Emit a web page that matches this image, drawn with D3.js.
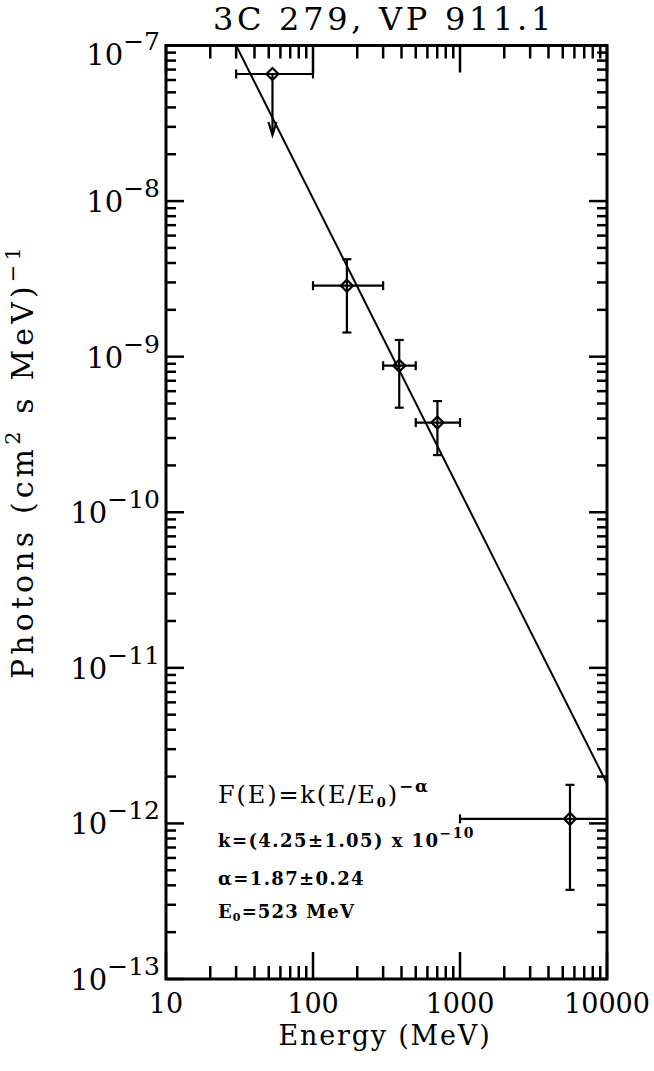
<!DOCTYPE html>
<html>
<head>
<meta charset="utf-8">
<script src="https://cdn.jsdelivr.net/npm/d3@7"></script>
<style>
  body { margin: 0; background: #fff; }
  svg { display: block; }
  text { font-family: "DejaVu Serif", serif; fill: #000; }
</style>
</head>
<body>
<svg width="654" height="1071"></svg>
<script>
// data
const energy = [53, 170, 386, 702, 5600];          // MeV, bin centre
const energyLo = [30, 100, 300, 500, 1000];
const energyHi = [100, 300, 500, 1000, 10000];
const flux = [6.56e-8, 2.86e-9, 8.75e-10, 3.77e-10, 1.07e-12];
const fluxLo = [null, 1.43e-9, 4.7e-10, 2.33e-10, 3.74e-13];
const fluxHi = [null, 4.23e-9, 1.28e-9, 5.18e-10, 1.77e-12];
const upperLimit = [true, false, false, false, false];
const limitArrowTo = [2.66e-8, null, null, null, null];

// fitted power law, end points as drawn
const fitEnergy = [30, 10000];
const fitFlux = [1e-7, 1.8e-12];

const xTickLabels = ["10", "100", "1000", "10000"];
const yTickExponents = ["−7", "−8", "−9", "−10", "−11", "−12", "−13"];

const svg = d3.select("svg");
const pLeft = 166, pRight = 607, pTop = 45.5, pBottom = 979;

const x = d3.scaleLog().domain([10, 10000]).range([pLeft, pRight]);
const y = d3.scaleLog().domain([1e-13, 1e-7]).range([pBottom, pTop]);

const isMajor = (v) => Math.abs(Math.log10(v) - Math.round(Math.log10(v))) < 1e-6;

// stretch a text to the width it has in the plot (old plotting fonts run wide)
const fitWidth = (sel, w) => {
  const n = sel.node();
  const len = n.getComputedTextLength();
  const chars = n.textContent.length;
  sel.attr("letter-spacing", (w - len) / chars);
  return sel;
};

// ticks on all four sides
const g = svg.append("g").attr("stroke", "#000").attr("stroke-width", 2.5);
x.ticks().forEach((t) => {
  const len = isMajor(t) ? 27 : 13;
  g.append("line").attr("x1", x(t)).attr("x2", x(t)).attr("y1", pBottom).attr("y2", pBottom - len);
  g.append("line").attr("x1", x(t)).attr("x2", x(t)).attr("y1", pTop).attr("y2", pTop + len);
});
y.ticks().forEach((t) => {
  const len = isMajor(t) ? 18 : 10;
  g.append("line").attr("y1", y(t)).attr("y2", y(t)).attr("x1", pLeft).attr("x2", pLeft + len);
  g.append("line").attr("y1", y(t)).attr("y2", y(t)).attr("x1", pRight).attr("x2", pRight - len);
});

svg.append("rect")
  .attr("x", pLeft).attr("y", pTop)
  .attr("width", pRight - pLeft).attr("height", pBottom - pTop)
  .attr("fill", "none").attr("stroke", "#000").attr("stroke-width", 3);

// x tick labels
svg.selectAll(".xlab")
  .data(xTickLabels)
  .enter()
  .append("text")
  .attr("x", (d) => x(+d))
  .attr("y", 1013)
  .attr("text-anchor", "middle")
  .attr("font-size", 27)
  .text((d) => d);

// y tick labels 10^-n
yTickExponents.forEach((e, i) => {
  const v = Math.pow(10, -7 - i);
  const yy = i === 0 ? y(v) + 19.5 : y(v) + 11;
  const t = svg.append("text")
    .attr("x", 160)
    .attr("y", yy)
    .attr("text-anchor", "end")
    .attr("font-size", 29);
  t.append("tspan").text("10");
  t.append("tspan").attr("dy", -15).attr("font-size", 25).text(e);
});

// axis titles
fitWidth(svg.append("text")
  .attr("x", 385).attr("y", 1045)
  .attr("text-anchor", "middle")
  .attr("font-size", 27)
  .text("Energy (MeV)"), 213);

const ylab = svg.append("text")
  .attr("transform", "translate(33,461) rotate(-90)")
  .attr("text-anchor", "middle")
  .attr("font-size", 30);
ylab.append("tspan").text("Photons (cm");
ylab.append("tspan").attr("dy", -13).attr("font-size", 21).text("2");
ylab.append("tspan").attr("dy", 13).text(" s MeV)");
ylab.append("tspan").attr("dy", -13).attr("font-size", 21).text("−1");
fitWidth(ylab, 436);

fitWidth(svg.append("text")
  .attr("x", 384).attr("y", 30)
  .attr("text-anchor", "middle")
  .attr("font-size", 32)
  .text("3C 279, VP 911.1"), 342);

// fit line
svg.append("line")
  .attr("x1", x(fitEnergy[0])).attr("y1", y(fitFlux[0]))
  .attr("x2", x(fitEnergy[1])).attr("y2", y(fitFlux[1]))
  .attr("stroke", "#000").attr("stroke-width", 2);

// data points
const pts = svg.append("g").attr("stroke", "#000").attr("stroke-width", 2.2).attr("fill", "none");
const cap = 4.5, dm = 6;
energy.forEach((e, i) => {
  const cx = x(e), cy = y(flux[i]);
  // horizontal bin bar
  pts.append("line").attr("x1", x(energyLo[i])).attr("x2", x(energyHi[i])).attr("y1", cy).attr("y2", cy);
  pts.append("line").attr("x1", x(energyLo[i])).attr("x2", x(energyLo[i])).attr("y1", cy - cap).attr("y2", cy + cap);
  pts.append("line").attr("x1", x(energyHi[i])).attr("x2", x(energyHi[i])).attr("y1", cy - cap).attr("y2", cy + cap);
  if (upperLimit[i]) {
    const ay = y(limitArrowTo[i]);
    pts.append("line").attr("x1", cx).attr("x2", cx).attr("y1", cy).attr("y2", ay);
    pts.append("path").attr("d", `M${cx - 4},${ay - 13}L${cx},${ay}L${cx + 4},${ay - 13}`);
  } else {
    const yl = y(fluxLo[i]), yh = y(fluxHi[i]);
    pts.append("line").attr("x1", cx).attr("x2", cx).attr("y1", yh).attr("y2", yl);
    pts.append("line").attr("x1", cx - cap).attr("x2", cx + cap).attr("y1", yh).attr("y2", yh);
    pts.append("line").attr("x1", cx - cap).attr("x2", cx + cap).attr("y1", yl).attr("y2", yl);
  }
  pts.append("path").attr("d", `M${cx},${cy - dm}L${cx + dm},${cy}L${cx},${cy + dm}L${cx - dm},${cy}Z`);
});

// fit annotation
const f1 = svg.append("text").attr("x", 218).attr("y", 803).attr("font-size", 24);
f1.append("tspan").text("F(E)=k(E/E");
f1.append("tspan").attr("dy", 4).attr("font-size", 13).attr("font-weight", "bold").text("0");
f1.append("tspan").attr("dy", -4).text(")");
f1.append("tspan").attr("dy", -11).attr("font-size", 17).attr("font-weight", "bold").text("−α");
fitWidth(f1, 212);

const bold = (yy) => svg.append("text").attr("x", 218).attr("y", yy)
  .attr("font-size", 18).attr("font-weight", "bold");

const f2 = bold(847);
f2.append("tspan").text("k=(4.25±1.05) x 10");
f2.append("tspan").attr("dy", -9).attr("font-size", 14).text("−10");
fitWidth(f2, 257);

fitWidth(bold(885).text("α=1.87±0.24"), 147);

const f4 = bold(918);
f4.append("tspan").text("E");
f4.append("tspan").attr("dy", 3).attr("font-size", 11).text("0");
f4.append("tspan").attr("dy", -3).text("=523 MeV");
fitWidth(f4, 137);
</script>
</body>
</html>
